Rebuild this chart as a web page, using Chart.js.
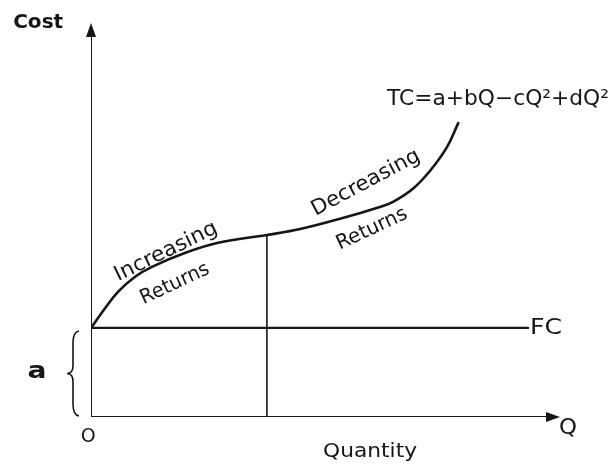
<!DOCTYPE html>
<html>
<head>
<meta charset="utf-8">
<script src="https://cdn.jsdelivr.net/npm/chart.js@4/dist/chart.umd.min.js"></script>
<style>
  html, body { margin: 0; padding: 0; background: #ffffff; }
  #wrap { width: 614px; height: 472px; }
</style>
</head>
<body>
<div id="wrap"><canvas id="c" width="614" height="472"></canvas></div>
<script>
// ---- Data (arbitrary units 0..10) ----
const quantity  = [0, 0.30, 0.58, 0.94, 1.30, 2.00, 2.71, 3.75, 4.46, 5.31, 6.16, 6.44, 6.87, 7.23, 7.59, 7.83];
const totalCost = [2.26, 2.76, 3.18, 3.56, 3.81, 4.16, 4.42, 4.62, 4.77, 5.03, 5.33, 5.46, 5.80, 6.25, 6.85, 7.46];
const fixedCost = 2.26;          // "a"
const fixedCostEndQ = 9.32;
const boundaryQ = 3.75;          // split between increasing / decreasing returns
const axisMax = [10, 10];        // [x max, y max]

// ---- Text labels ----
const labelTexts  = ["Cost", "O", "Q", "Quantity", "FC", "a", "TC=a+bQ\u2212cQ\u00B2+dQ\u00B2",
                     "Increasing", "Returns", "Decreasing", "Returns"];
const labelQ      = [-1.66, -0.06, 10.17, 5.95, 9.36, -1.15, 6.31, 1.60, 1.79, 5.86, 5.99];
const labelCost   = [10.0, -0.51, -0.28, -0.89, 2.26, 1.14, 8.05, 4.19, 3.38, 5.94, 4.77];

const curvePoints = quantity.map((q, i) => ({ x: q, y: totalCost[i] }));
const tcAt = q => totalCost[quantity.indexOf(q)];

const INK = '#161616';

function fitText(ctx, text, x, y, size, width, angle, align, bold) {
  ctx.save();
  ctx.font = (bold ? 'bold ' : '') + size + 'px "DejaVu Sans", "Liberation Sans", sans-serif';
  const w = ctx.measureText(text).width;
  const sx = width ? width / w : 1;
  ctx.translate(x, y);
  ctx.rotate(angle * Math.PI / 180);
  ctx.scale(sx, 1);
  ctx.textBaseline = 'middle';
  ctx.textAlign = align || 'center';
  ctx.fillStyle = INK;
  ctx.fillText(text, 0, 0);
  ctx.restore();
}

const decor = {
  id: 'decor',
  afterDatasetsDraw(chart) {
    const { ctx, scales: { x, y } } = chart;
    const X = v => x.getPixelForValue(v);
    const Y = v => y.getPixelForValue(v);
    ctx.save();
    ctx.fillStyle = INK;
    // arrowheads
    const ox = X(0), oy = Y(0);
    const xt = X(axisMax[0]), yt = Y(axisMax[1]);
    ctx.beginPath();
    ctx.moveTo(xt, oy); ctx.lineTo(xt - 14, oy - 5); ctx.lineTo(xt - 14, oy + 5); ctx.closePath(); ctx.fill();
    ctx.beginPath();
    ctx.moveTo(ox, yt); ctx.lineTo(ox - 5, yt + 14); ctx.lineTo(ox + 5, yt + 14); ctx.closePath(); ctx.fill();
    // brace for "a"
    const top = Y(fixedCost) + 3, bot = Y(0) - 1, mid = (top + bot) / 2;
    const bx = ox - 18;
    ctx.strokeStyle = INK; ctx.lineWidth = 1.6;
    ctx.beginPath();
    ctx.moveTo(bx + 6, top);
    ctx.quadraticCurveTo(bx, top + 1, bx, top + 12);
    ctx.lineTo(bx, mid - 8);
    ctx.quadraticCurveTo(bx, mid, bx - 6, mid);
    ctx.quadraticCurveTo(bx, mid, bx, mid + 8);
    ctx.lineTo(bx, bot - 12);
    ctx.quadraticCurveTo(bx, bot - 1, bx + 6, bot);
    ctx.stroke();
    ctx.restore();

    // labels: [size, width, angle, align, bold]
    const styles = [
      [19, 50, 0, 'left', true],
      [20, 15, 0, 'center', false],
      [22, 18, 0, 'center', false],
      [20, 94, 0, 'center', false],
      [22, 32, 0, 'left', false],
      [23, 19, 0, 'center', true],
      [21, 222, 0, 'left', false],
      [21, 112, -26, 'center', false],
      [20, 74, -25, 'center', false],
      [21, 120, -28, 'center', false],
      [20, 76, -25, 'center', false]
    ];
    labelTexts.forEach((t, i) => {
      const s = styles[i];
      fitText(ctx, t, X(labelQ[i]), Y(labelCost[i]), s[0], s[1], s[2], s[3], s[4]);
    });
  }
};

new Chart(document.getElementById('c'), {
  type: 'line',
  data: {
    datasets: [
      { label: 'TC', data: curvePoints, borderColor: INK, borderWidth: 2.6,
        pointRadius: 0, tension: 0.4, fill: false },
      { label: 'FC', data: [{ x: 0, y: fixedCost }, { x: fixedCostEndQ, y: fixedCost }],
        borderColor: INK, borderWidth: 2.2, pointRadius: 0 },
      { label: 'boundary', data: [{ x: boundaryQ, y: 0 }, { x: boundaryQ, y: tcAt(boundaryQ) }],
        borderColor: INK, borderWidth: 1.6, pointRadius: 0 },
      { label: 'xAxis', data: [{ x: 0, y: 0 }, { x: axisMax[0] - 0.2, y: 0 }],
        borderColor: INK, borderWidth: 2.2, pointRadius: 0 },
      { label: 'yAxis', data: [{ x: 0, y: 0 }, { x: 0, y: axisMax[1] - 0.3 }],
        borderColor: INK, borderWidth: 2, pointRadius: 0 }
    ]
  },
  options: {
    responsive: false,
    animation: false,
    events: [],
    layout: { padding: { left: 91, right: 54, top: 23, bottom: 55 } },
    plugins: { legend: { display: false }, tooltip: { enabled: false }, title: { display: false } },
    scales: {
      x: { type: 'linear', min: 0, max: axisMax[0], display: false },
      y: { type: 'linear', min: 0, max: axisMax[1], display: false }
    },
    elements: { line: { borderCapStyle: 'round' } }
  },
  plugins: [decor]
});
</script>
</body>
</html>
